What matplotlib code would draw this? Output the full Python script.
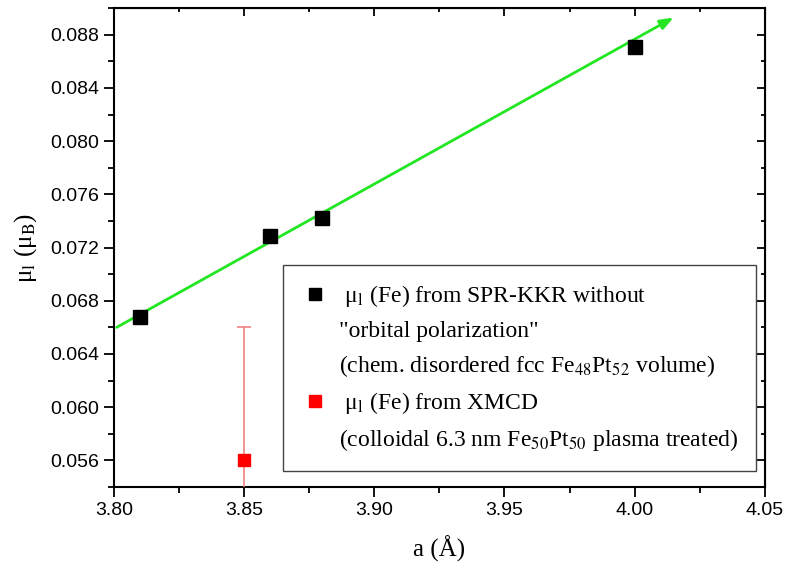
import matplotlib
matplotlib.use("Agg")
import matplotlib.pyplot as plt
from matplotlib.lines import Line2D
from matplotlib.ticker import MultipleLocator

# data
a_kkr = [3.81, 3.86, 3.88, 4.00]
mu_kkr = [0.0668, 0.0729, 0.0742, 0.0871]
a_xmcd = [3.85]
mu_xmcd = [0.0560]
err_xmcd = [0.0100]
trend_start = (3.801, 0.0660)
trend_end = (4.015, 0.0893)
xticks = [3.80, 3.85, 3.90, 3.95, 4.00, 4.05]
yticks = [0.056, 0.060, 0.064, 0.068, 0.072, 0.076, 0.080, 0.084, 0.088]

plt.rcParams['mathtext.fontset'] = 'stix'
serif = ['Liberation Serif', 'DejaVu Serif']
sans = ['Liberation Sans', 'DejaVu Sans']

fig = plt.figure(figsize=(7.86, 5.68), dpi=100)
ax = fig.add_axes([0.145, 0.1426, 0.828, 0.843])

ax.annotate('', xy=trend_end, xytext=trend_start,
            arrowprops=dict(arrowstyle='-|>,head_length=0.8,head_width=0.3',
                            color='#22e622', lw=2, shrinkA=0, shrinkB=0))
ax.plot(a_kkr, mu_kkr, 's', color='black', markersize=10, zorder=3)
ax.errorbar(a_xmcd, mu_xmcd, yerr=err_xmcd, fmt='s', color='#ff0000',
            ecolor='#f08080', elinewidth=1.2, capsize=5, capthick=1.2,
            markersize=9, zorder=3)

ax.set_xlim(3.80, 4.05)
ax.set_ylim(0.054, 0.090)
ax.set_xticks(xticks)
ax.set_yticks(yticks)
ax.set_xticklabels([f'{v:.2f}' for v in xticks], family=sans, fontsize=14)
ax.set_yticklabels([f'{v:.3f}' for v in yticks], family=sans, fontsize=14)
ax.xaxis.set_minor_locator(MultipleLocator(0.025))
ax.yaxis.set_minor_locator(MultipleLocator(0.002))
ax.tick_params(which='major', direction='out', length=7, width=1.3)
ax.tick_params(which='minor', direction='out', length=4, width=1.3)
for s in ax.spines.values():
    s.set_linewidth(1.5)

secx = ax.secondary_xaxis('top')
secx.set_xticks(xticks)
secx.xaxis.set_minor_locator(MultipleLocator(0.025))
secx.tick_params(which='major', direction='in', length=6, width=1.3, labeltop=False)
secx.tick_params(which='minor', direction='in', length=3, width=1.3)
secy = ax.secondary_yaxis('right')
secy.set_yticks(yticks)
secy.yaxis.set_minor_locator(MultipleLocator(0.002))
secy.tick_params(which='major', direction='in', length=6, width=1.3, labelright=False)
secy.tick_params(which='minor', direction='in', length=3, width=1.3)

ax.set_xlabel('a (Å)', family=serif, fontsize=18, labelpad=12)
ax.set_ylabel(r'μ$_\mathrm{l}$ (μ$_\mathrm{B}$)', family=serif, fontsize=18, labelpad=8)

blank = Line2D([], [], linestyle='none', marker='none')
handles = [Line2D([], [], linestyle='none', marker='s', color='black', markersize=8),
           blank, blank,
           Line2D([], [], linestyle='none', marker='s', color='#ff0000', markersize=8),
           blank]
labels = [r' μ$_\mathrm{l}$ (Fe) from SPR-KKR without',
          '"orbital polarization"',
          r'(chem. disordered fcc Fe$_{48}$Pt$_{52}$ volume)',
          r' μ$_\mathrm{l}$ (Fe) from XMCD',
          r'(colloidal 6.3 nm Fe$_{50}$Pt$_{50}$ plasma treated)']
leg = ax.legend(handles, labels, loc='upper left', bbox_to_anchor=(0.26, 0.463),
                borderaxespad=0,
                prop={'family': serif, 'size': 17}, frameon=True, fancybox=False,
                edgecolor='#444444', framealpha=1, labelspacing=0.47,
                borderpad=0.75, handletextpad=0.42, handlelength=1.2)
leg.get_frame().set_linewidth(1.0)

fig.savefig('out.png', dpi=100)
